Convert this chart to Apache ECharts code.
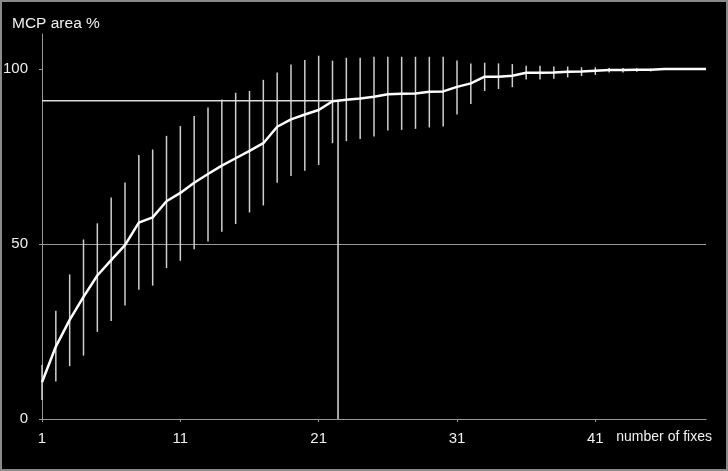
<!DOCTYPE html>
<html>
<head>
<meta charset="utf-8">
<script src="https://cdn.jsdelivr.net/npm/echarts@6/dist/echarts.min.js"></script>
<style>
html,body{margin:0;padding:0;background:#000;}
#chart{width:728px;height:471px;}
</style>
</head>
<body>
<div id="chart"></div>
<script>
// number of fixes
const fixes = [1,2,3,4,5,6,7,8,9,10,11,12,13,14,15,16,17,18,19,20,21,22,23,24,25,26,27,28,29,30,31,32,33,34,35,36,37,38,39,40,41,42,43,44,45,46,47,48,49];
// mean MCP area %
const meanArea = [10.5,20.7,28.3,34.9,41.0,45.4,49.7,56.1,57.6,62.2,64.6,67.5,70.0,72.4,74.5,76.6,78.8,83.5,85.6,87.0,88.3,90.8,91.2,91.6,92.1,92.8,92.9,93.0,93.5,93.6,94.9,95.9,97.8,97.8,98.1,98.9,98.9,99.0,99.2,99.3,99.5,99.7,99.7,99.8,99.8,100,100,100,100];
// error bar lower / upper ends
const errLow  = [5.4,10.7,15.1,18.1,24.9,28.0,32.4,36.9,38.1,43.1,45.2,48.5,50.7,53.5,55.7,59.0,61.0,67.5,69.4,70.9,72.6,78.8,79.4,80.0,80.7,82.4,82.6,82.9,83.3,83.6,87.0,90.0,93.7,94.3,94.8,97.0,97.0,97.2,97.6,98.0,98.3,99.0,99.0,99.2,99.3,null,null,null,null];
const errHigh = [15.4,30.9,41.3,51.3,55.9,63.3,67.6,75.4,77.0,80.9,83.7,86.6,89.0,91.3,93.2,93.7,96.9,99.0,101.3,102.6,103.8,102.4,103.2,103.2,103.5,103.5,103.5,103.5,103.5,103.5,102.4,101.6,101.8,101.6,101.4,100.9,100.9,100.7,100.7,100.5,100.5,100.3,100.3,100.2,100.1,null,null,null,null];
// reference point (90% of area reached)
const refX = 22.4;
const refY = 90.9;
const xTickLabels = [1,11,21,31,41];
const yTickLabels = [0,50,100];

const font = '"Liberation Sans", Arial, sans-serif';
const chart = echarts.init(document.getElementById('chart'));

const lineData = fixes.map((f,i)=>[f, meanArea[i]]);
const errData = [];
fixes.forEach((f,i)=>{ if (errLow[i] != null) errData.push([f, errLow[i], errHigh[i]]); });
const refData = [[fixes[0], refY],[refX, refY],[refX, 0]];

chart.setOption({
  backgroundColor: '#000',
  animation: false,
  textStyle: {fontFamily: font},
  title: {
    text: 'MCP area %',
    left: 7, top: 11, padding: 5,
    textStyle: {color: '#f0f0f0', fontSize: 15.5, fontWeight: 'normal', fontFamily: font}
  },
  graphic: [{
    type: 'rect', silent: true,
    shape: {x: 1, y: 1, width: 726, height: 469},
    style: {fill: 'none', stroke: '#8a8a8a', lineWidth: 2}
  }],
  grid: {left: 42, right: 22, top: 34, bottom: 52, outerBoundsMode: 'none', containLabel: false},
  xAxis: {
    type: 'value', min: 1, max: 49,
    name: 'number of fixes', nameLocation: 'end', nameGap: 6,
    nameTextStyle: {color: '#f0f0f0', fontSize: 14, fontFamily: font, align: 'right', verticalAlign: 'top', padding: [11,0,0,0]},
    axisLine: {show: true, lineStyle: {color: '#9a9a9a', width: 1}},
    axisTick: {show: true, length: 3, inside: false, customValues: xTickLabels, lineStyle: {color: '#9a9a9a'}},
    axisLabel: {customValues: xTickLabels, color: '#f0f0f0', fontSize: 15, fontFamily: font, margin: 12},
    splitLine: {show: false}
  },
  yAxis: {
    type: 'value', min: 0, max: 110, interval: 50,
    axisLine: {show: true, lineStyle: {color: '#9a9a9a', width: 1}},
    axisTick: {show: true, length: 3, customValues: yTickLabels, lineStyle: {color: '#9a9a9a'}},
    axisLabel: {customValues: yTickLabels, color: '#f0f0f0', fontSize: 15, fontFamily: font, margin: 14},
    splitLine: {show: true, showMinLine: false, showMaxLine: false, lineStyle: {color: '#9a9a9a', width: 1}}
  },
  series: [
    {
      type: 'custom', name: 'sd', z: 2,
      data: errData,
      encode: {x: 0, y: [1, 2]},
      renderItem: function (params, api) {
        const x = api.value(0);
        const p1 = api.coord([x, api.value(1)]);
        const p2 = api.coord([x, api.value(2)]);
        return {type: 'line', shape: {x1: p1[0], y1: p1[1], x2: p2[0], y2: p2[1]},
                style: {stroke: '#cfcfcf', lineWidth: 1.5}};
      }
    },
    {
      type: 'line', name: 'ref', z: 3,
      data: refData, showSymbol: false, symbol: 'none',
      lineStyle: {color: '#dcdcdc', width: 1.5}
    },
    {
      type: 'line', name: 'mean', z: 4,
      data: lineData, showSymbol: false, symbol: 'none', smooth: false,
      lineStyle: {color: '#ffffff', width: 2.5}
    }
  ]
});
</script>
</body>
</html>
